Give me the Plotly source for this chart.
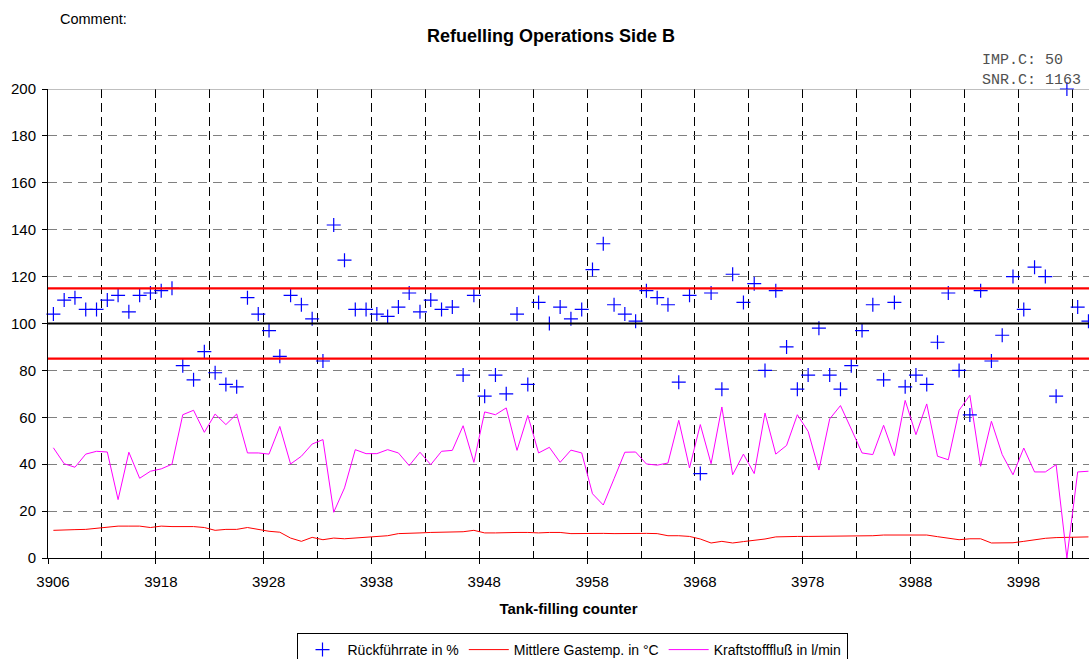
import plotly.graph_objects as go

# ---------------- data ----------------
counter = [3906, 3907, 3909, 3910, 3911, 3913, 3914, 3915, 3916, 3917] + list(range(3918, 4005))

rueckfuehr = [104, 110, 111, 106, 106, 110, 112, 105, 112, 113,
              114, 115, 82, 76, 88, 79, 74, 73, 111, 104,
              97, 86, 112, 108, 102, 84, 142, 127, 106, 106,
              104, 103, 107, 113, 105, 110, 106, 107, 78, 112,
              69, 78, 70, 104, 74, 109, 100, 107, 102, 106,
              123, 134, 108, 104, 101, 114, 111, 108, 75, 112,
              36, 113, 72, 121, 109, 117, 80, 114, 90, 72,
              78, 98, 78, 72, 82, 97, 108, 76, 109, 73,
              78, 74, 92, 113, 80, 61, 114, 84, 95, 120,
              106, 124, 120, 69, 200, 107, 101]

gastemp = [11.8, 11.8, 12.1, 12.2, 12.7, 12.9, 13.6, 13.6, 13.6, 13.0,
           13.6, 13.4, 13.4, 13.4, 13.0, 11.8, 12.2, 12.2, 13.0, 12.1,
           11.4, 11.0, 8.5, 7.1, 8.8, 7.8, 8.5, 8.2, 8.5, 8.7,
           9.0, 9.5, 10.4, 10.4, 10.7, 10.9, 10.9, 11.2, 11.2, 11.8,
           10.7, 10.7, 10.9, 10.9, 10.9, 10.7, 10.9, 10.9, 10.4, 10.5,
           10.5, 10.5, 10.4, 10.5, 10.5, 10.5, 10.4, 9.5, 9.5, 9.2,
           8.1, 6.4, 7.1, 6.4, 7.0, 7.5, 8.1, 9.0, 9.2, 9.2,
           9.2, 9.2, 9.2, 9.2, 9.2, 9.5, 9.5, 9.8, 9.8, 9.8,
           9.8, 9.8, 9.1, 8.5, 7.8, 8.2, 8.2, 6.4, 6.5, 6.5,
           7.1, 7.8, 8.4, 8.7, 8.7, 9.0, 9.0]

kraftstoff = [47, 40.2, 38.7, 44.3, 45.5, 45.2, 24.9, 45.1, 34, 37,
              38, 40, 61.1, 63, 53.6, 61.4, 56.9, 61.4, 44.8, 44.8,
              44.3, 56.1, 40.1, 43.4, 48.6, 50.5, 19.5, 29.9, 46.2, 44.5,
              44.5, 46.2, 44.8, 39.4, 45.1, 39.8, 45.5, 45.9, 56.4, 40.8,
              62.3, 61.1, 64, 45.9, 60.8, 44.8, 47.2, 40.8, 46, 44.8,
              27.4, 22.6, 33.8, 45.1, 45.2, 40.1, 39.6, 40.5, 58.7, 38.4,
              56.9, 40.2, 64.4, 35.5, 44.3, 36, 61.8, 44.3, 48, 61.1,
              54, 37.5, 59.3, 65, 55, 44.8, 44.1, 56.6, 43.6, 67.2,
              52.6, 65.7, 43.4, 41.9, 63, 69.4, 39.1, 58.3, 44.1, 35.5,
              46.9, 36.7, 36.7, 39.8, 0, 36.7, 37]

y_ticks = list(range(0, 201, 20))
limit_lines = [85, 115]
target_line = [100]

# ---------------- figure ----------------
FONT = "Liberation Sans, Arial, sans-serif"
MONO = "Liberation Mono, Courier New, monospace"

idx = list(range(len(counter)))
label_pos = idx[::10]
tick_text = [str(counter[i]) for i in label_pos]
major_vals = [i - 0.5 for i in label_pos]
minor_vals = [i + 4.5 for i in label_pos]

fig = go.Figure()
fig.add_trace(go.Scatter(
    x=idx, y=gastemp, mode="lines", name="Mittlere Gastemp. in °C",
    line=dict(color="#ff0000", width=1), legendrank=2))
fig.add_trace(go.Scatter(
    x=idx, y=kraftstoff, mode="lines", name="Kraftstofffluß in l/min",
    line=dict(color="#ff00ff", width=1), legendrank=3))
fig.add_trace(go.Scatter(
    x=idx, y=rueckfuehr, mode="markers", name="Rückführrate in %",
    marker=dict(symbol="cross-thin", size=10, color="#0000ff",
                line=dict(color="#0000ff", width=1.2)),
    cliponaxis=False, legendrank=1))

shapes = []
for v in limit_lines:
    shapes.append(dict(type="line", xref="paper", x0=0, x1=1, yref="y", y0=v, y1=v,
                       line=dict(color="#ff0000", width=2.2), layer="above"))
for v in target_line:
    shapes.append(dict(type="line", xref="paper", x0=0, x1=1, yref="y", y0=v, y1=v,
                       line=dict(color="#000000", width=2), layer="above"))
shapes.append(dict(type="line", xref="paper", x0=0, x1=1, yref="y", y0=y_ticks[-1], y1=y_ticks[-1],
                   line=dict(color="#808080", width=1), layer="above"))

fig.update_layout(
    width=1089, height=659,
    margin=dict(l=48, r=0, t=89, b=101, autoexpand=False),
    paper_bgcolor="white", plot_bgcolor="white",
    font=dict(family=FONT, size=15, color="black"),
    title=dict(text="<b>Refuelling Operations Side B</b>", xref="container", x=551 / 1089,
               xanchor="center", yref="container", y=1 - 36 / 659, yanchor="middle",
               font=dict(size=18, family=FONT, color="black")),
    showlegend=True,
    legend=dict(orientation="h", x=(572 - 48) / 1041, xanchor="center",
                y=(558 - 633) / 469, yanchor="top", bordercolor="black", borderwidth=1,
                bgcolor="white", font=dict(size=14, family=FONT), traceorder="normal",
                itemwidth=40),
    xaxis=dict(range=[-0.5, 96.05], tickmode="array", tickvals=major_vals, ticktext=tick_text,
               ticks="outside", ticklen=5, tickcolor="black", ticklabelshift=5,
               ticklabelstandoff=5,
               showgrid=True, gridcolor="black", griddash="9px,5px", gridwidth=1,
               showline=True, linecolor="black", linewidth=1, zeroline=False,
               minor=dict(tickvals=minor_vals, showgrid=True, gridcolor="black",
                          griddash="9px,5px", gridwidth=1, ticks=""),
               title=dict(text="<b>Tank-filling counter</b>", font=dict(size=15), standoff=14)),
    yaxis=dict(range=[0, 200], tickmode="array", tickvals=y_ticks,
               ticks="outside", ticklen=5, tickcolor="black", ticklabelstandoff=3,
               showgrid=True, gridcolor="#808080", griddash="9px,6px", gridwidth=1,
               showline=True, linecolor="black", linewidth=1, zeroline=False),
    shapes=shapes,
    annotations=[
        dict(text="Comment:", xref="paper", yref="paper", x=(58 - 48) / 1041, y=(558 - 19) / 469,
             xanchor="left", yanchor="middle", showarrow=False, font=dict(size=14.5, family=FONT)),
        dict(text="IMP.C: 50", xref="paper", yref="paper", x=(980 - 48) / 1041, y=(558 - 60) / 469,
             xanchor="left", yanchor="middle", showarrow=False,
             font=dict(size=15, family=MONO, color="#505050")),
        dict(text="SNR.C: 1163", xref="paper", yref="paper", x=(980 - 48) / 1041, y=(558 - 80) / 469,
             xanchor="left", yanchor="middle", showarrow=False,
             font=dict(size=15, family=MONO, color="#505050")),
    ],
)

fig.write_html("out.html", config={"displayModeBar": False},
               post_script="document.body.style.margin='0';document.body.style.overflow='hidden';")
